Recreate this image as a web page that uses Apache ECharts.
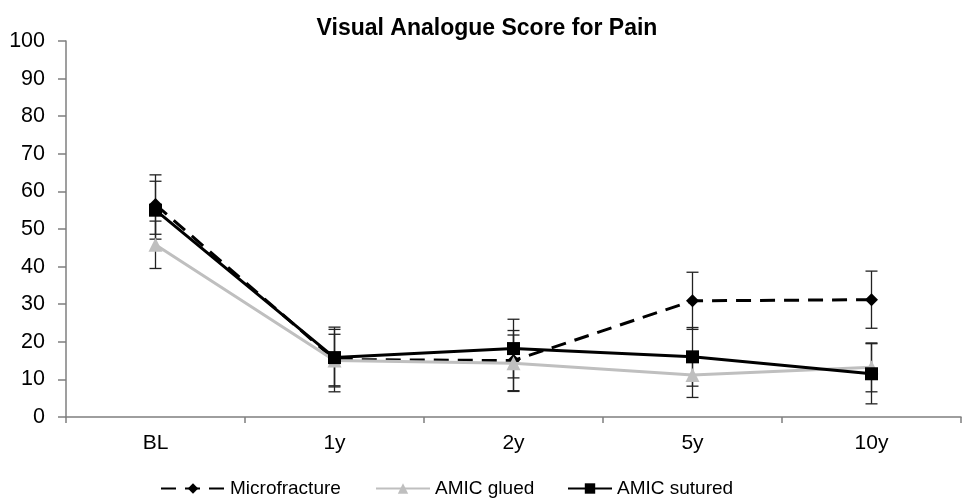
<!DOCTYPE html>
<html>
<head>
<meta charset="utf-8">
<script src="https://cdn.jsdelivr.net/npm/echarts@6/dist/echarts.min.js"></script>
<style>
  html, body { margin: 0; padding: 0; background: #fff; }
  #chart { width: 962px; height: 501px; }
</style>
</head>
<body>
<div id="chart"></div>
<script>
// Time points of follow-up
const categories = ['BL', '1y', '2y', '5y', '10y'];

// Mean VAS pain scores per group
const microfracture = [56.5, 15.3, 15.0, 30.9, 31.2];
const amicGlued     = [45.8, 15.0, 14.3, 11.2, 13.2];
const amicSutured   = [55.0, 15.8, 18.2, 16.0, 11.5];

// Standard deviations (symmetric error bars)
const microfractureSd = [7.9, 8.6, 8.0, 7.6, 7.6];
const amicGluedSd     = [6.3, 7.0, 7.5, 6.0, 6.5];
const amicSuturedSd   = [7.7, 7.5, 7.8, 7.8, 8.0];

const yTicks = [0, 10, 20, 30, 40, 50, 60, 70, 80, 90, 100];

const FONT = 'Liberation Sans, Arial, sans-serif';

function errorRows(means, sds) {
  return means.map((m, i) => [i, m - sds[i], m + sds[i]]);
}

function errorBarSeries(name, means, sds, z) {
  return {
    type: 'custom',
    name: name + ' SD',
    z: z,
    silent: true,
    data: errorRows(means, sds),
    encode: { x: 0, y: [1, 2] },
    renderItem: function (params, api) {
      const x = api.value(0);
      const lo = api.coord([x, api.value(1)]);
      const hi = api.coord([x, api.value(2)]);
      const cap = 6;
      const style = { stroke: '#222', lineWidth: 1.3, fill: null };
      return {
        type: 'group',
        children: [
          { type: 'line', shape: { x1: lo[0], y1: lo[1], x2: hi[0], y2: hi[1] }, style: style },
          { type: 'line', shape: { x1: lo[0] - cap, y1: lo[1], x2: lo[0] + cap, y2: lo[1] }, style: style },
          { type: 'line', shape: { x1: hi[0] - cap, y1: hi[1], x2: hi[0] + cap, y2: hi[1] }, style: style }
        ]
      };
    }
  };
}

const chart = echarts.init(document.getElementById('chart'), null, { renderer: 'canvas' });

const legendText = { fontFamily: FONT, fontSize: 19, color: '#000' };

chart.setOption({
  animation: false,
  backgroundColor: '#fff',
  title: {
    text: 'Visual Analogue Score for Pain',
    left: 482,
    textAlign: 'center',
    top: 12,
    textStyle: { fontFamily: FONT, fontSize: 23, fontWeight: 'bold', color: '#000' }
  },
  legend: [
    {
      data: ['Microfracture'], left: 160, top: 479, itemWidth: 64, itemHeight: 13,
      itemGap: 0, textStyle: legendText, padding: 0
    },
    {
      data: ['AMIC glued'], left: 375, top: 479, itemWidth: 54, itemHeight: 13,
      textStyle: legendText, padding: 0
    },
    {
      data: ['AMIC sutured'], left: 567, top: 479, itemWidth: 44, itemHeight: 13,
      textStyle: legendText, padding: 0
    }
  ],
  grid: { left: 66, right: 1, top: 41, bottom: 84, containLabel: false },
  xAxis: {
    type: 'category',
    data: categories,
    boundaryGap: true,
    axisLine: { lineStyle: { color: '#7f7f7f', width: 1.5 } },
    axisTick: { show: true, length: 6, lineStyle: { color: '#7f7f7f', width: 1.5 } },
    axisLabel: { fontFamily: FONT, fontSize: 21, color: '#000', margin: 16 },
    splitLine: { show: false }
  },
  yAxis: {
    type: 'value',
    min: yTicks[0],
    max: yTicks[yTicks.length - 1],
    interval: 10,
    axisLine: { show: true, lineStyle: { color: '#7f7f7f', width: 1.5 } },
    axisTick: { show: true, length: 8, lineStyle: { color: '#7f7f7f', width: 1.5 } },
    axisLabel: { fontFamily: FONT, fontSize: 21.5, color: '#000', margin: 21 },
    splitLine: { show: false }
  },
  series: [
    errorBarSeries('Microfracture', microfracture, microfractureSd, 1),
    errorBarSeries('AMIC glued', amicGlued, amicGluedSd, 1),
    errorBarSeries('AMIC sutured', amicSutured, amicSuturedSd, 1),
    {
      name: 'Microfracture',
      type: 'line',
      z: 3,
      data: microfracture,
      symbol: 'diamond',
      symbolSize: 13,
      lineStyle: { color: '#000', width: 3, type: [15, 9] },
      itemStyle: { color: '#000' }
    },
    {
      name: 'AMIC glued',
      type: 'line',
      z: 4,
      data: amicGlued,
      symbol: 'triangle',
      symbolSize: 14,
      lineStyle: { color: '#bfbfbf', width: 3 },
      itemStyle: { color: '#bfbfbf' }
    },
    {
      name: 'AMIC sutured',
      type: 'line',
      z: 5,
      data: amicSutured,
      symbol: 'rect',
      symbolSize: 13,
      lineStyle: { color: '#000', width: 3 },
      itemStyle: { color: '#000' }
    }
  ]
});
</script>
</body>
</html>
